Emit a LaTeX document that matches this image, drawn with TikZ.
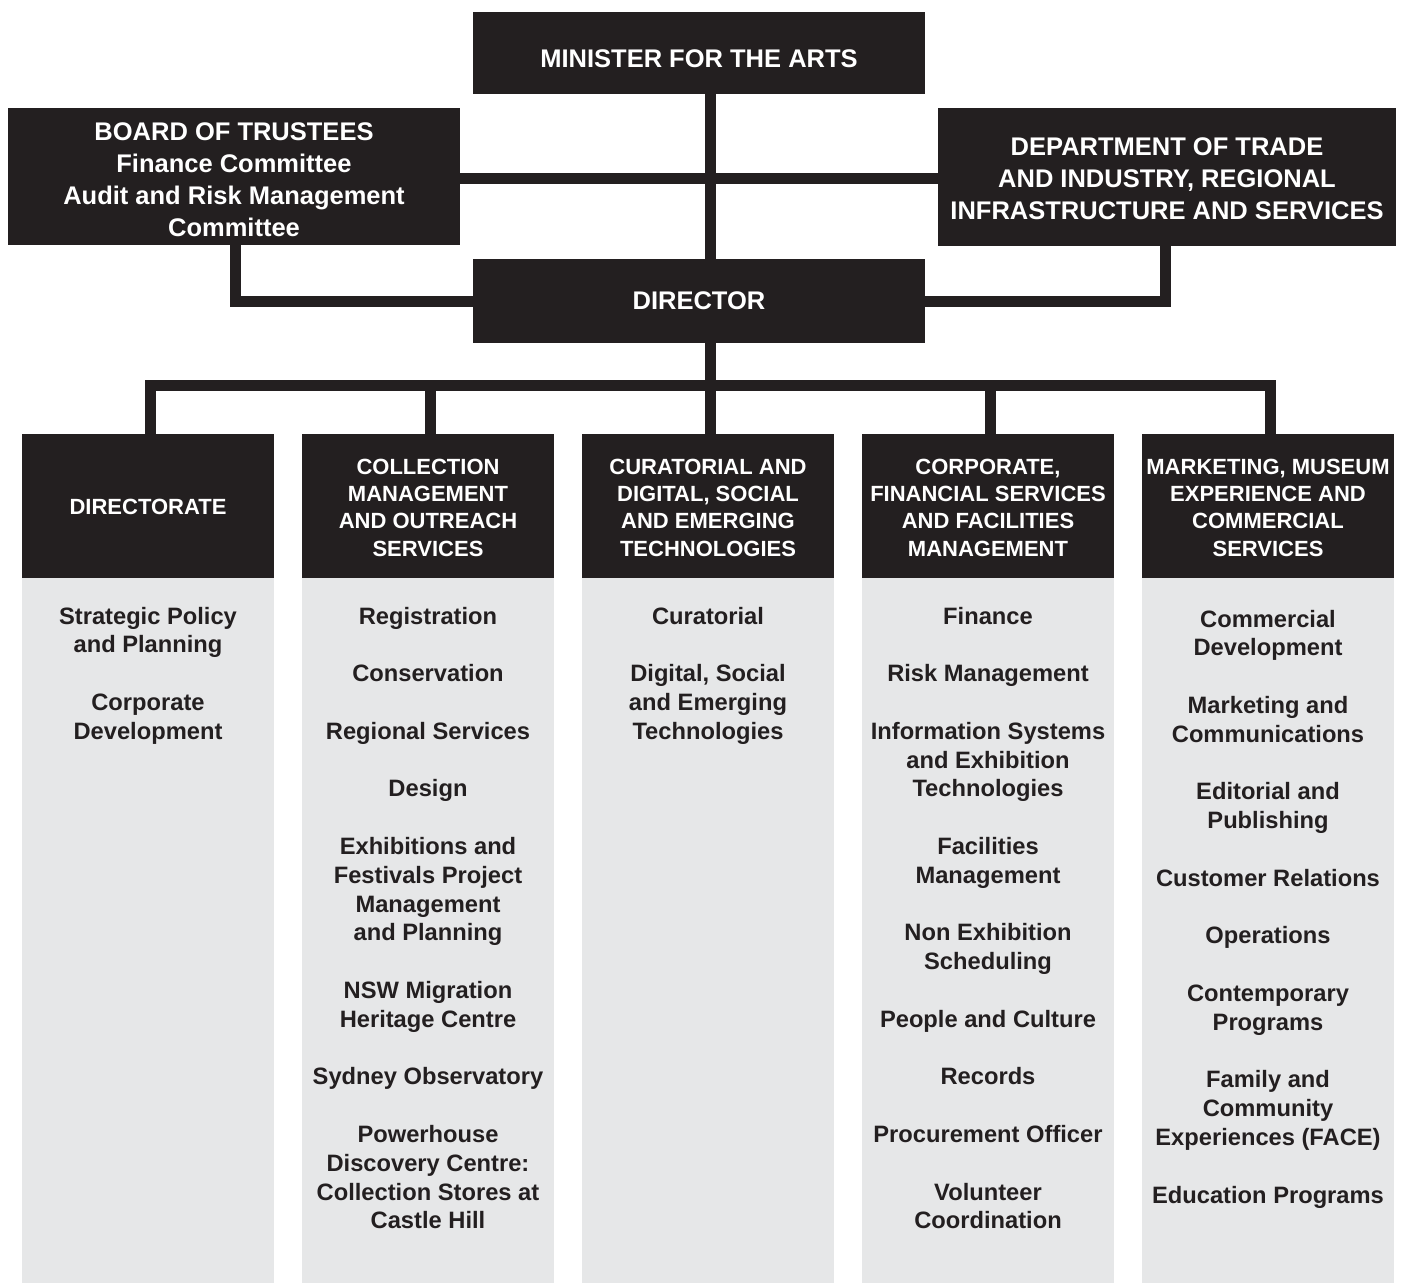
\documentclass[tikz,border=0pt]{standalone}
\usepackage{fontspec}
\setmainfont{Liberation Sans}
\definecolor{ink}{HTML}{231F20}
\definecolor{panel}{HTML}{E6E7E8}
\begin{document}
\begin{tikzpicture}[x=1pt,y=-1pt,
  blk/.style={fill=ink,draw=none,inner sep=0pt,outer sep=0pt,anchor=north west},
  pnl/.style={fill=panel,draw=none,inner sep=0pt,outer sep=0pt,anchor=north west},
  wire/.style={draw=ink,line width=11pt},
  toptxt/.style={text=white,anchor=base,inner sep=0pt,font=\fontsize{25.5}{32}\selectfont\bfseries},
  headtxt/.style={text=white,anchor=base,inner sep=0pt,font=\fontsize{22}{27.4}\selectfont\bfseries},
  bodytxt/.style={text=ink,anchor=base,inner sep=0pt,font=\fontsize{23.7}{28.8}\selectfont\bfseries}]
\useasboundingbox (0,0) rectangle (1411,1285);

% top boxes
\node[blk,minimum width=452pt,minimum height=82pt] (min) at (473,12) {};
\node[blk,minimum width=452pt,minimum height=137pt] (brd) at (8,108) {};
\node[blk,minimum width=458pt,minimum height=138pt] (dep) at (938,108) {};
\node[blk,minimum width=452pt,minimum height=84pt] (dir) at (473,259) {};

% connectors (top)
\draw[wire] ([xshift=11pt]min.south) -- ([xshift=11pt]dir.north);
\draw[wire] ([yshift=-1.5pt]brd.east) -- ([yshift=-1.5pt]brd.east -| dep.west);
\draw[wire] ([xshift=1pt]brd.south) |- (dir.west);
\draw[wire] ([xshift=-2pt]dep.south) |- (dir.east);

% top texts
\node[toptxt] (tmin) at (699,67) {MINISTER FOR THE ARTS};
\node[toptxt] (tdir) at (699,309) {DIRECTOR};
\node[toptxt] (tbrd) at (234,140) {\begin{tabular}[t]{@{}c@{}}BOARD OF TRUSTEES\\Finance Committee\\Audit and Risk Management\\Committee\end{tabular}};
\node[toptxt] (tdep) at (1167,155) {\begin{tabular}[t]{@{}c@{}}DEPARTMENT OF TRADE\\AND INDUSTRY, REGIONAL\\INFRASTRUCTURE AND SERVICES\end{tabular}};

% column headers
\node[blk,minimum width=252pt,minimum height=144pt] (h1) at (22,434) {};
\node[blk,minimum width=252pt,minimum height=144pt] (h2) at (302,434) {};
\node[blk,minimum width=252pt,minimum height=144pt] (h3) at (582,434) {};
\node[blk,minimum width=252pt,minimum height=144pt] (h4) at (862,434) {};
\node[blk,minimum width=252pt,minimum height=144pt] (h5) at (1142,434) {};

% column panels
\node[pnl,minimum width=252pt,minimum height=705pt] (p1) at (22,578) {};
\node[pnl,minimum width=252pt,minimum height=705pt] (p2) at (302,578) {};
\node[pnl,minimum width=252pt,minimum height=705pt] (p3) at (582,578) {};
\node[pnl,minimum width=252pt,minimum height=705pt] (p4) at (862,578) {};
\node[pnl,minimum width=252pt,minimum height=705pt] (p5) at (1142,578) {};

% bus connectors
\draw[wire] ([xshift=11pt]dir.south) -- ++(0,42) -| ([xshift=2pt]h1.north);
\draw[wire] ([xshift=11pt]dir.south) -- ++(0,42) -| ([xshift=2pt]h2.north);
\draw[wire] ([xshift=11pt]dir.south) -- ([xshift=2pt]h3.north);
\draw[wire] ([xshift=11pt]dir.south) -- ++(0,42) -| ([xshift=2pt]h4.north);
\draw[wire] ([xshift=11pt]dir.south) -- ++(0,42) -| ([xshift=2pt]h5.north);

% header texts
\node[headtxt] (th1) at (148,514) {DIRECTORATE};
\node[headtxt] (th2) at (428,474) {\begin{tabular}[t]{@{}c@{}}COLLECTION\\MANAGEMENT\\AND OUTREACH\\SERVICES\end{tabular}};
\node[headtxt] (th3) at (708,474) {\begin{tabular}[t]{@{}c@{}}CURATORIAL AND\\DIGITAL, SOCIAL\\AND EMERGING\\TECHNOLOGIES\end{tabular}};
\node[headtxt] (th4) at (988,474) {\begin{tabular}[t]{@{}c@{}}CORPORATE,\\FINANCIAL SERVICES\\AND FACILITIES\\MANAGEMENT\end{tabular}};
\node[headtxt] (th5) at (1268,474) {\begin{tabular}[t]{@{}c@{}}MARKETING, MUSEUM\\EXPERIENCE AND\\COMMERCIAL\\SERVICES\end{tabular}};

% body texts
\node[bodytxt] (tb1) at (148,624) {\begin{tabular}[t]{@{}c@{}}Strategic Policy\\and Planning\\ \\Corporate\\Development\end{tabular}};
\node[bodytxt] (tb2) at (428,624) {\begin{tabular}[t]{@{}c@{}}Registration\\ \\Conservation\\ \\Regional Services\\ \\Design\\ \\Exhibitions and\\Festivals Project\\Management\\and Planning\\ \\NSW Migration\\Heritage Centre\\ \\Sydney Observatory\\ \\Powerhouse\\Discovery Centre:\\Collection Stores at\\Castle Hill\end{tabular}};
\node[bodytxt] (tb3) at (708,624) {\begin{tabular}[t]{@{}c@{}}Curatorial\\ \\Digital, Social\\and Emerging\\Technologies\end{tabular}};
\node[bodytxt] (tb4) at (988,624) {\begin{tabular}[t]{@{}c@{}}Finance\\ \\Risk Management\\ \\Information Systems\\and Exhibition\\Technologies\\ \\Facilities\\Management\\ \\Non Exhibition\\Scheduling\\ \\People and Culture\\ \\Records\\ \\Procurement Officer\\ \\Volunteer\\Coordination\end{tabular}};
\node[bodytxt] (tb5) at (1268,627) {\begin{tabular}[t]{@{}c@{}}Commercial\\Development\\ \\Marketing and\\Communications\\ \\Editorial and\\Publishing\\ \\Customer Relations\\ \\Operations\\ \\Contemporary\\Programs\\ \\Family and\\Community\\Experiences (FACE)\\ \\Education Programs\end{tabular}};
\end{tikzpicture}
\end{document}
